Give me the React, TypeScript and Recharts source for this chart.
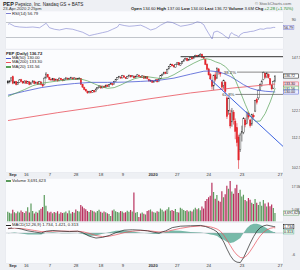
import React from 'react';
import { ComposedChart, Bar, Line, Area, XAxis, YAxis, CartesianGrid, ReferenceLine, Cell } from 'recharts';

const FONT = '"Liberation Sans", Arial, sans-serif';

const opens = [
  134.5,133.9,134.7,136.4,133.7,134.3,133.1,134.0,135.1,134.3,133.8,134.6,133.6,134.2,133.3,133.9,134.5,133.6,134.1,133.3,
  134.2,133.1,133.0,135.9,137.4,136.2,135.3,135.0,135.5,134.9,135.2,134.7,135.7,135.1,134.8,135.4,135.8,135.3,135.6,135.9,135.4,135.8,135.3,
  135.7,135.6,133.1,131.9,131.1,130.3,129.7,130.3,129.8,130.6,130.1,131.3,131.9,132.5,131.7,132.4,132.0,132.9,132.4,133.2,
  133.5,133.0,134.4,135.2,136.1,136.3,135.9,136.8,136.1,135.7,136.4,136.9,136.4,136.7,136.0,136.5,137.1,136.4,136.2,136.7,135.8,
  136.5,135.3,134.5,134.8,134.1,134.6,135.1,134.3,135.5,137.0,137.6,138.4,137.9,139.8,140.9,141.8,141.3,140.6,141.9,142.6,141.5,
  142.4,143.1,143.9,144.5,143.6,144.1,145.0,144.4,145.3,145.9,145.4,146.0,146.4,145.1,144.0,141.9,139.8,137.4,134.8,
  132.5,137.2,135.8,139.8,138.2,133.9,132.8,134.1,127.6,122.4,121.6,118.3,122.0,118.6,116.2,112.8,108.5,114.2,114.5,119.0,117.8,121.5,
  119.0,117.5,120.8,122.4,127.0,127.6,131.0,133.0,135.2,137.9,136.4,137.5,135.6,132.8,131.6,134.6,
];
const highs = [
  135.0,134.9,136.2,136.9,134.6,134.5,134.2,135.4,135.5,134.6,134.9,134.9,134.6,134.5,134.1,135.0,134.8,134.3,134.4,134.6,
  134.4,133.4,136.4,138.4,137.6,136.4,135.6,135.9,135.7,135.6,135.4,136.1,135.9,135.3,135.7,136.3,136.0,136.0,136.4,136.1,136.2,136.0,135.9,
  136.2,135.8,133.3,132.2,131.3,130.6,130.5,130.6,130.8,130.8,131.4,132.1,132.8,132.7,132.6,132.6,133.1,133.0,133.3,133.9,
  133.7,134.6,135.5,136.3,136.8,136.5,137.2,137.0,136.3,136.8,137.4,137.1,137.0,136.9,136.9,137.6,137.3,136.6,137.0,136.9,136.6,
  136.7,135.6,135.2,135.0,134.8,135.3,135.3,135.7,137.1,137.8,138.6,138.6,139.9,141.1,142.2,142.1,141.6,142.1,142.9,142.8,142.5,
  143.3,144.1,144.8,144.7,144.3,145.2,145.3,145.5,146.2,146.1,146.2,146.9,146.7,145.5,144.2,142.3,140.3,138.0,135.2,
  137.3,138.6,140.4,140.2,138.6,134.6,135.2,134.4,128.3,127.8,122.9,123.6,122.8,119.6,117.8,113.6,114.3,116.9,120.1,119.8,122.3,122.0,
  119.4,121.4,121.5,126.8,127.6,131.0,133.6,135.1,138.6,138.1,138.4,137.8,135.8,133.2,134.8,137.0,
];
const lows = [
  133.2,133.6,134.4,133.2,133.5,132.7,132.9,133.8,134.0,133.4,133.5,133.3,133.4,132.8,133.0,133.6,133.2,133.3,132.9,133.1,
  132.8,132.0,132.8,135.6,136.0,134.9,134.6,134.8,134.5,134.7,134.3,134.5,134.9,134.4,134.6,135.1,135.0,135.1,135.4,135.2,135.3,135.0,135.1,
  135.2,132.9,131.7,130.7,130.1,129.3,129.4,129.4,129.6,129.8,129.9,131.0,131.7,131.4,131.5,131.7,131.8,132.1,132.2,133.0,
  132.6,132.9,134.2,135.0,135.8,135.5,135.7,136.0,135.4,135.5,136.2,136.1,136.2,135.7,135.8,136.4,136.3,135.9,136.0,135.5,135.6,
  135.2,134.3,134.2,133.8,133.9,134.4,134.0,134.1,135.3,136.7,137.4,137.5,137.7,139.6,140.6,141.0,140.4,140.4,141.7,141.3,141.2,
  142.1,142.9,143.7,143.2,143.3,143.9,144.0,144.2,145.0,145.0,145.2,145.9,144.8,144.1,141.5,139.2,136.9,135.0,131.0,
  130.8,134.4,135.5,137.3,136.4,130.9,131.4,129.6,119.4,121.0,115.9,116.5,117.3,112.0,109.5,102.0,107.6,111.2,113.8,116.3,117.4,119.2,
  116.2,116.8,119.6,122.0,125.0,126.8,130.5,132.2,134.9,135.6,135.8,135.6,132.6,130.7,131.2,134.0,
];
const closes = [
  133.8,134.6,135.9,133.6,134.2,133.0,133.9,135.0,134.4,133.7,134.5,133.6,134.3,133.1,133.8,134.6,133.5,134.0,133.2,134.3,
  133.0,132.5,135.8,137.6,136.3,135.2,135.0,135.6,134.8,135.3,134.6,135.8,135.1,134.7,135.4,135.9,135.2,135.7,136.0,135.4,135.9,135.2,135.6,
  135.8,133.2,132.0,131.0,130.4,129.6,130.2,129.7,130.5,130.0,131.2,131.8,132.5,131.6,132.4,131.9,132.8,132.3,133.1,133.6,
  133.0,134.3,135.2,136.0,136.4,135.8,136.9,136.2,135.6,136.5,137.0,136.3,136.8,135.9,136.6,137.2,136.5,136.1,136.8,135.7,136.4,
  135.6,134.6,134.9,134.0,134.5,135.0,134.2,135.4,136.9,137.5,138.3,137.8,139.6,140.8,141.9,141.2,140.7,141.8,142.5,141.6,142.2,
  143.0,143.8,144.4,143.5,144.0,144.9,144.3,145.2,145.8,145.3,145.9,146.3,145.0,144.6,141.8,139.6,137.2,135.5,132.3,
  137.0,135.2,140.2,138.5,137.6,132.0,134.8,130.2,120.3,127.5,116.8,122.5,119.0,114.8,110.8,104.9,113.5,114.8,119.6,117.2,121.8,120.1,
  116.9,121.0,120.2,126.5,125.8,130.6,133.2,134.5,138.3,136.2,137.7,136.0,133.0,131.3,134.4,136.72,
];
const volumes = [
  4.2,3.8,3.5,5.1,4.0,3.6,4.4,3.9,4.8,4.1,3.7,4.5,6.2,3.9,7.8,4.6,3.5,4.2,3.8,4.9,
  5.5,6.3,11.5,6.8,4.5,3.9,4.2,3.6,4.1,3.8,4.5,3.4,4.0,3.7,3.9,4.3,3.6,4.8,3.5,4.1,3.8,5.2,4.6,
  4.4,7.2,6.5,5.8,5.3,4.6,4.1,5.0,4.7,4.3,3.9,4.6,5.1,4.2,3.8,4.4,4.0,3.6,3.3,2.4,
  4.8,5.2,4.5,4.1,3.9,4.6,4.3,3.8,4.0,4.7,4.2,5.0,4.4,12.6,3.8,4.1,2.0,3.5,3.9,3.4,3.0,
  4.6,4.9,5.2,4.3,4.0,3.8,4.5,4.2,5.6,5.1,4.4,4.8,5.3,6.2,4.7,5.0,4.6,5.4,4.1,3.9,6.0,
  5.5,5.0,4.6,4.9,4.3,4.7,4.4,5.2,6.0,5.3,5.8,4.9,6.5,5.6,8.9,9.8,10.5,11.2,16.8,
  12.8,9.9,11.5,9.0,8.6,13.2,10.5,11.8,15.6,14.2,17.6,13.0,12.1,14.5,16.0,12.4,13.8,10.9,11.6,9.3,8.8,10.2,
  9.5,8.2,7.6,9.8,8.1,7.2,8.6,6.9,9.4,7.8,6.5,8.3,6.6,7.4,5.9,3.7,
];

const ma20Pts: [number, number][] = [
  [0,128.2],[5,129.6],[10,131.0],[15,132.6],[20,133.6],[25,134.1],[30,134.6],[35,135.0],[40,135.3],[44,135.4],[48,134.6],[52,133.4],
  [56,132.2],[60,131.5],[64,131.8],[68,132.9],[72,134.3],[76,135.5],[80,136.2],[84,136.4],[88,136.0],[92,135.6],[96,136.0],[100,137.3],
  [104,139.0],[108,140.8],[112,142.4],[116,143.8],[119,144.4],[122,144.0],[125,143.0],[128,142.2],[131,140.8],[134,138.4],[137,135.0],
  [140,130.0],[143,125.0],[146,120.5],[149,118.5],[152,118.6],[155,121.5],[158,126.0],[161,131.56],
];
const ma50Pts: [number, number][] = [
  [0,128.7],[10,130.3],[20,131.8],[30,132.8],[40,133.5],[50,134.0],[60,134.0],[70,134.1],[80,134.4],[90,134.8],[100,135.8],
  [110,137.5],[118,138.8],[122,138.9],[126,138.6],[130,137.8],[134,136.5],[138,134.8],[142,133.0],[146,131.6],[150,130.8],[155,130.3],[161,130.0],
];
const ma200Pts: [number, number][] = [
  [0,118.8],[30,121.8],[60,124.6],[85,127.2],[110,129.6],[135,131.6],[161,133.3],
];
const rsiPts: [number, number][] = [
  [0,65],[1,67],[4,60],[7,58],[11,57],[15,58],[19,56],[21,62],[23,68],[25,56],[28,52],[31,50],[35,54],[39,52],[42,48],[45,44],[49,35],
  [52,38],[54,40],[57,43],[60,46],[63,52],[66,58],[67,65],[70,62],[73,60],[76,61],[80,63],[83,57],[86,50],[89,54],[92,63],[96,72],
  [99,70],[102,64],[104,60],[108,63],[111,66],[114,72],[116,70],[118,64],[119,55],[121,40],[123,26],[124,44],[126,47],[127,45],[129,40],
  [131,33],[133,27],[134,40],[135,43],[136,38],[138,35],[139,31],[140,38],[142,43],[144,44],[146,46],[148,47],[150,50],[152,53],[154,52],
  [156,55],[158,55],[160,57],[161,56.79],
];
const macdPts: [number, number][] = [
  [0,1.2],[4,1.5],[8,1.1],[12,0.6],[16,0.3],[20,0.0],[23,0.5],[27,0.7],[32,0.5],[37,0.4],[42,0.5],[45,0.1],[49,-0.9],[53,-1.4],[57,-1.2],
  [61,-0.7],[65,0.1],[70,0.8],[75,0.9],[80,0.8],[84,0.6],[88,0.2],[91,0.0],[95,0.6],[99,1.5],[104,1.9],[110,2.0],[116,2.1],[119,1.8],
  [122,1.3],[124,0.9],[126,0.3],[128,-1.0],[130,-2.5],[132,-4.5],[134,-6.3],[136,-7.6],[138,-8.1],[140,-8.2],[142,-6.8],[144,-4.8],
  [146,-2.8],[148,-1.0],[150,0.5],[152,1.5],[154,2.0],[156,2.2],[158,2.0],[160,1.8],[161,1.734],
];
const signalPts: [number, number][] = [
  [0,1.3],[4,1.35],[8,1.25],[12,1.0],[16,0.7],[20,0.4],[23,0.4],[27,0.5],[32,0.55],[37,0.5],[42,0.5],[45,0.35],[49,-0.1],[53,-0.7],
  [57,-1.0],[61,-0.9],[65,-0.5],[70,0.1],[75,0.5],[80,0.7],[84,0.65],[88,0.45],[91,0.3],[95,0.35],[99,0.8],[104,1.3],[110,1.75],
  [116,1.95],[119,1.9],[122,1.7],[124,1.45],[126,1.1],[128,0.5],[130,-0.6],[132,-2.0],[134,-3.5],[136,-5.0],[138,-6.1],[140,-6.8],
  [142,-6.9],[144,-6.2],[146,-5.0],[148,-3.6],[150,-2.1],[152,-0.8],[154,0.2],[156,0.9],[158,1.3],[160,1.5],[161,1.421],
];
const histPts: [number, number][] = [
  [0,-0.1],[4,0.15],[8,-0.15],[12,-0.4],[16,-0.4],[20,-0.4],[23,0.1],[27,0.2],[32,-0.05],[37,-0.1],[42,0.0],[45,-0.25],[49,-0.8],
  [53,-0.7],[57,-0.2],[61,0.2],[65,0.6],[70,0.7],[75,0.4],[80,0.1],[84,-0.05],[88,-0.25],[91,-0.3],[95,0.25],[99,0.7],[104,0.6],
  [110,0.25],[116,0.15],[119,-0.1],[122,-0.4],[124,-0.55],[126,-0.8],[128,-1.5],[130,-1.9],[132,-2.5],[134,-2.8],[136,-2.6],[138,-2.0],
  [140,-1.4],[142,0.1],[144,1.4],[146,2.2],[148,2.6],[150,2.6],[152,2.3],[154,1.8],[156,1.3],[158,0.7],[160,0.3],[161,0.313],
];

const dateTicks = [0,4,9,14,20,24,29,34,39,43,49,54,59,63,68,73,78,84,91,96,100,105,110,115,119,124,129,134,139,146,153,158,162];
const dateLabels = ['Sep','9','16','23','Oct','7','14','21','28','Nov','11','18','25','Dec','9','16','23','2020','13','21','27','Feb','10','18','24','Mar','9','16','23','Apr','13','20','27'];

const priceTicks = [102.5,105,107.5,110,112.5,115,117.5,120,122.5,125,127.5,130,132.5,135,137.5,140,142.5,145,147.5];
const rsiTicks = [10,30,50,70,90];
const volTicks = [2.5,5,7.5,10,12.5,15,17.5];
const macdTicks = [-8,-6,-4,-2,0,2];

const lastClose = 136.72;
const lastMa20 = 131.56;
const lastMa50 = 130.0;
const lastMa200 = 133.3;
const lastRsi = 56.79;
const lastVol = 3.69;
const lastMacd = 1.734;
const lastSignal = 1.421;
const lastHist = 0.313;

const highLevel = 145.3;
const fib382 = 138.4;
const fib618 = 129.0;
const trendStart = { i: 122, p: 135.3 };
const trendEnd = { i: 165.7, p: 109.5 };

const X_DOMAIN: [number, number] = [-1.2, 165.7];

type Row = { [k: string]: any };
const rows: Row[] = closes.map((c, i) => ({
  i,
  o: opens[i],
  h: highs[i],
  l: lows[i],
  c,
  range: [lows[i], highs[i]],
  down: i > 0 ? c < closes[i - 1] : false,
  vol: volumes[i],
}));
const attach = (pts: [number, number][], key: string) => {
  pts.forEach(([i, v]) => { rows[i][key] = v; });
};
attach(ma20Pts, 'ma20');
attach(ma50Pts, 'ma50');
attach(ma200Pts, 'ma200');
attach(rsiPts, 'rsi');
attach(macdPts, 'macd');
attach(signalPts, 'signal');
attach(histPts, 'hist');

const GRID = '#dfe3ea';
const PANEL_BG = '#fbfcfe';
const GREEN = '#5a9a5c';
const RED = '#b8325e';
const C_MA20 = '#56a056';
const C_MA50 = '#4a5bd4';
const C_MA200 = '#e8505a';
const C_RSI = '#7c7fcf';
const C_HIST = '#5fae9a';

const Candle = (props: any) => {
  const { x, y, width, height, payload } = props;
  if (!payload || x == null) return null;
  const top = Math.min(y, y + height);
  const bot = Math.max(y, y + height);
  const { o, h, l, c } = payload;
  const lh = Math.log(h);
  const ll = Math.log(l);
  const toY = (v: number) => (lh === ll ? top : top + ((lh - Math.log(v)) / (lh - ll)) * (bot - top));
  const cx = x + width / 2;
  const color = payload.down ? '#e3242b' : '#2a2a2a';
  const yo = toY(o);
  const yc = toY(c);
  const bt = Math.min(yo, yc);
  const bh = Math.max(0.7, Math.abs(yo - yc));
  return (
    <g>
      <line x1={cx} x2={cx} y1={top} y2={bot} stroke={color} strokeWidth={0.6} />
      <rect x={cx - 0.7} y={bt} width={1.4} height={bh} fill={c > o ? '#ffffff' : color} stroke={color} strokeWidth={0.4} />
    </g>
  );
};

const DateTick = (props: any) => {
  const { x, y, payload } = props;
  const idx = dateTicks.indexOf(payload.value);
  const label = dateLabels[idx] ?? '';
  const bold = /[A-Za-z]/.test(label) || label === '2020';
  return (
    <text x={x + 1} y={y + 3.6} fontSize={4.2} fontWeight={bold ? 700 : 400} fill="#333" textAnchor="start" fontFamily={FONT}>
      {label}
    </text>
  );
};

const RightTick = (fmt: (v: number) => string, hidden: number[] = [], size = 3.7) => (props: any) => {
  const { x, y, payload } = props;
  if (hidden.includes(payload.value)) return null;
  return (
    <text x={x + 0.8} y={y + 1.4} fontSize={size} fill="#444" fontFamily={FONT}>
      {fmt(payload.value)}
    </text>
  );
};

const BoxLabel = (text: string, color: string, bg: string, w = 15) => (props: any) => {
  const vb = props.viewBox;
  if (!vb) return null;
  const x = vb.x + vb.width;
  const y = vb.y;
  return (
    <g>
      <rect x={x + 0.4} y={y - 2.1} width={w} height={4.2} fill={bg} stroke={color} strokeWidth={0.5} />
      <text x={x + 1} y={y + 1.35} fontSize={3.6} fill="#111" fontFamily={FONT}>{text}</text>
    </g>
  );
};

const FibLabel = (text: string) => (props: any) => {
  const vb = props.viewBox;
  if (!vb) return null;
  return (
    <text x={vb.x - 1} y={vb.y + 1.5} fontSize={4.3} fill="#333" textAnchor="end" fontFamily={FONT}>{text}</text>
  );
};

const W = 300;
const AXW = 17;

const abs = (top: number, h: number): React.CSSProperties => ({ position: 'absolute', left: 0, top, width: W, height: h });

const Legend = ({ top, items }: { top: number; items: { color?: string; text: string; bold?: boolean }[] }) => (
  <div style={{ position: 'absolute', left: 6, top, fontFamily: FONT, fontSize: 4.2, lineHeight: '4.4px', color: '#222', whiteSpace: 'nowrap' }}>
    {items.map((it, k) => (
      <div key={k} style={{ display: 'flex', alignItems: 'center' }}>
        {it.color ? <span style={{ display: 'inline-block', width: 5, height: 1.2, background: it.color, marginRight: 1 }} /> : null}
        <span style={{ fontWeight: it.bold ? 700 : 400, background: 'rgba(251,252,254,0.85)' }}>{it.text}</span>
      </div>
    ))}
  </div>
);

export default function App() {
  const fmt1 = (v: number) => v.toFixed(1);
  return (
    <div style={{ position: 'absolute', left: 0, top: 0, width: 300, height: 270, background: '#eef0f4', overflow: 'hidden', fontFamily: FONT }}>
      {/* header */}
      <div style={{ position: 'absolute', left: 3, top: 0.5, fontSize: 4.6, color: '#222', whiteSpace: 'nowrap' }}>
        <b style={{ fontSize: 5.4 }}>PEP</b> Pepsico, Inc.  Nasdaq GS + BATS
      </div>
      <div style={{ position: 'absolute', left: 3, top: 5.5, fontSize: 4.2, color: '#333', whiteSpace: 'nowrap' }}>23-Apr-2020 2:25pm</div>
      <div style={{ position: 'absolute', left: 255, top: 0.5, fontSize: 4.2, color: '#666', whiteSpace: 'nowrap' }}>© StockCharts.com</div>
      <div style={{ position: 'absolute', left: 131, top: 5.5, fontSize: 4.2, color: '#222', whiteSpace: 'nowrap' }}>
        <b>Open</b> 134.60 <b>High</b> 137.00 <b>Low</b> 134.00 <b>Last</b> 136.72 <b>Volume</b> 3.6M <b>Chg</b> <span style={{ color: '#1a8a1a' }}>+2.28 (+1.70%)</span>
      </div>

      {/* RSI */}
      <div style={abs(11, 38)}>
        <ComposedChart width={W} height={38} data={rows} margin={{ top: 0.25, right: 0, bottom: 0.25, left: 6 }}>
          <rect x={6} y={0.25} width={277} height={37.5} fill={PANEL_BG} />
          <CartesianGrid stroke={GRID} strokeWidth={0.5} />
          <XAxis type="number" dataKey="i" domain={X_DOMAIN} ticks={dateTicks} tick={false} axisLine={false} tickLine={false} height={0} allowDataOverflow />
          <YAxis orientation="right" domain={[0, 100]} ticks={rsiTicks} width={AXW} axisLine={false} tickLine={false} tick={RightTick((v) => String(v), [50])} />
          <ReferenceLine y={70} stroke="#9aa0a8" strokeWidth={0.6} />
          <ReferenceLine y={30} stroke="#9aa0a8" strokeWidth={0.6} />
          <Line dataKey="rsi" stroke={C_RSI} strokeWidth={0.6} dot={false} connectNulls isAnimationActive={false} />
          <ReferenceLine y={lastRsi} stroke="none" label={BoxLabel(String(lastRsi), C_RSI, '#eef', 10.5)} />
        </ComposedChart>
      </div>
      <Legend top={11.5} items={[{ color: C_RSI, text: `RSI(14) ${lastRsi}` }]} />

      {/* Price */}
      <div style={abs(49, 130)}>
        <ComposedChart width={W} height={130} data={rows} margin={{ top: 1, right: 0, bottom: 1, left: 6 }}>
          <rect x={6} y={1} width={277} height={122} fill={PANEL_BG} />
          <CartesianGrid stroke={GRID} strokeWidth={0.5} />
          <XAxis type="number" dataKey="i" domain={X_DOMAIN} ticks={dateTicks} tick={DateTick} axisLine={false} tickLine={false} height={6} tickSize={0} tickMargin={0} allowDataOverflow />
          <YAxis orientation="right" scale="log" domain={[101, 148.4]} ticks={priceTicks} width={AXW} axisLine={false} tickLine={false} tick={RightTick(fmt1, [137.5, 135, 132.5, 130])} allowDataOverflow />
          <Line dataKey="ma200" stroke={C_MA200} strokeWidth={0.8} dot={false} connectNulls isAnimationActive={false} />
          <Line dataKey="ma50" stroke={C_MA50} strokeWidth={0.8} dot={false} connectNulls isAnimationActive={false} />
          <Line dataKey="ma20" stroke={C_MA20} strokeWidth={0.7} dot={false} connectNulls isAnimationActive={false} />
          <Bar dataKey="range" barSize={1.4} shape={Candle} isAnimationActive={false} />
          <ReferenceLine segment={[{ x: 104, y: highLevel }, { x: 165.7, y: highLevel }]} stroke="#333" strokeWidth={1} />
          <ReferenceLine segment={[{ x: 138, y: fib382 }, { x: 165.7, y: fib382 }]} stroke="#555" strokeWidth={0.7} label={FibLabel('38.2%')} />
          <ReferenceLine segment={[{ x: 137, y: fib618 }, { x: 165.7, y: fib618 }]} stroke="#555" strokeWidth={0.7} label={FibLabel('61.8%')} />
          <ReferenceLine segment={[{ x: trendStart.i, y: trendStart.p }, { x: trendEnd.i, y: trendEnd.p }]} stroke="#3d64e0" strokeWidth={1} />
          <ReferenceLine y={lastClose} stroke="none" label={BoxLabel(lastClose.toFixed(2), '#000', '#fff')} />
          <ReferenceLine y={lastMa200} stroke="none" label={BoxLabel(lastMa200.toFixed(2), C_MA200, '#fde')} />
          <ReferenceLine y={lastMa20} stroke="none" label={BoxLabel(lastMa20.toFixed(2), C_MA20, '#efe')} />
          <ReferenceLine y={lastMa50} stroke="none" label={BoxLabel(lastMa50.toFixed(2), C_MA50, '#eef')} />
        </ComposedChart>
      </div>
      <Legend top={51.5} items={[
        { text: `PEP (Daily) ${lastClose}`, bold: true },
        { color: C_MA50, text: `MA(50) ${lastMa50.toFixed(2)}` },
        { color: C_MA200, text: `MA(200) ${lastMa200.toFixed(2)}` },
        { color: C_MA20, text: `MA(20) ${lastMa20.toFixed(2)}` },
      ]} />

      {/* Volume */}
      <div style={abs(178, 44)}>
        <ComposedChart width={W} height={44} data={rows} margin={{ top: 0.5, right: 0, bottom: 0.5, left: 6 }}>
          <rect x={6} y={0.5} width={277} height={43} fill={PANEL_BG} />
          <CartesianGrid stroke={GRID} strokeWidth={0.5} />
          <XAxis type="number" dataKey="i" domain={X_DOMAIN} ticks={dateTicks} tick={false} axisLine={false} tickLine={false} height={0} allowDataOverflow />
          <YAxis orientation="right" domain={[0, 18.7]} ticks={volTicks} width={AXW} axisLine={false} tickLine={false} tick={RightTick((v) => v.toFixed(1) + 'M', [2.5], 3.3)} allowDataOverflow />
          <Bar dataKey="vol" barSize={1.2} isAnimationActive={false}>
            {rows.map((r, k) => <Cell key={k} fill={r.down ? RED : GREEN} />)}
          </Bar>
          <ReferenceLine y={lastVol} stroke="none" label={BoxLabel('3,691,623', GREEN, '#fff', 15.5)} />
        </ComposedChart>
      </div>
      <Legend top={178.8} items={[{ color: GREEN, text: 'Volume 3,691,623' }]} />

      {/* MACD */}
      <div style={abs(222, 48)}>
        <ComposedChart width={W} height={48} data={rows} margin={{ top: 1, right: 0, bottom: 1, left: 6 }}>
          <rect x={6} y={1} width={277} height={40} fill={PANEL_BG} />
          <CartesianGrid stroke={GRID} strokeWidth={0.5} />
          <XAxis type="number" dataKey="i" domain={X_DOMAIN} ticks={dateTicks} tick={DateTick} axisLine={false} tickLine={false} height={6} tickSize={0} tickMargin={0} allowDataOverflow />
          <YAxis orientation="right" domain={[-8.33, 2.78]} ticks={macdTicks} width={AXW} axisLine={false} tickLine={false} tick={RightTick((v) => String(v), [2, 0])} allowDataOverflow />
          <Area dataKey="hist" baseValue={0} stroke="none" fill={C_HIST} fillOpacity={0.85} connectNulls isAnimationActive={false} />
          <ReferenceLine y={0} stroke="#9aa0a8" strokeWidth={0.4} />
          <Line dataKey="signal" stroke={C_MA200} strokeWidth={0.7} dot={false} connectNulls isAnimationActive={false} />
          <Line dataKey="macd" stroke="#222" strokeWidth={0.7} dot={false} connectNulls isAnimationActive={false} />
          <ReferenceLine y={lastMacd} stroke="none" label={BoxLabel(String(lastMacd), '#000', '#fff', 10.5)} />
          <ReferenceLine y={lastHist} stroke="none" label={BoxLabel(String(lastHist), C_HIST, '#efe', 10.5)} />
        </ComposedChart>
      </div>
      <Legend top={223.3} items={[{ color: '#222', text: `MACD(12,26,9) ${lastMacd}, ${lastSignal}, ${lastHist}` }]} />
    </div>
  );
}
